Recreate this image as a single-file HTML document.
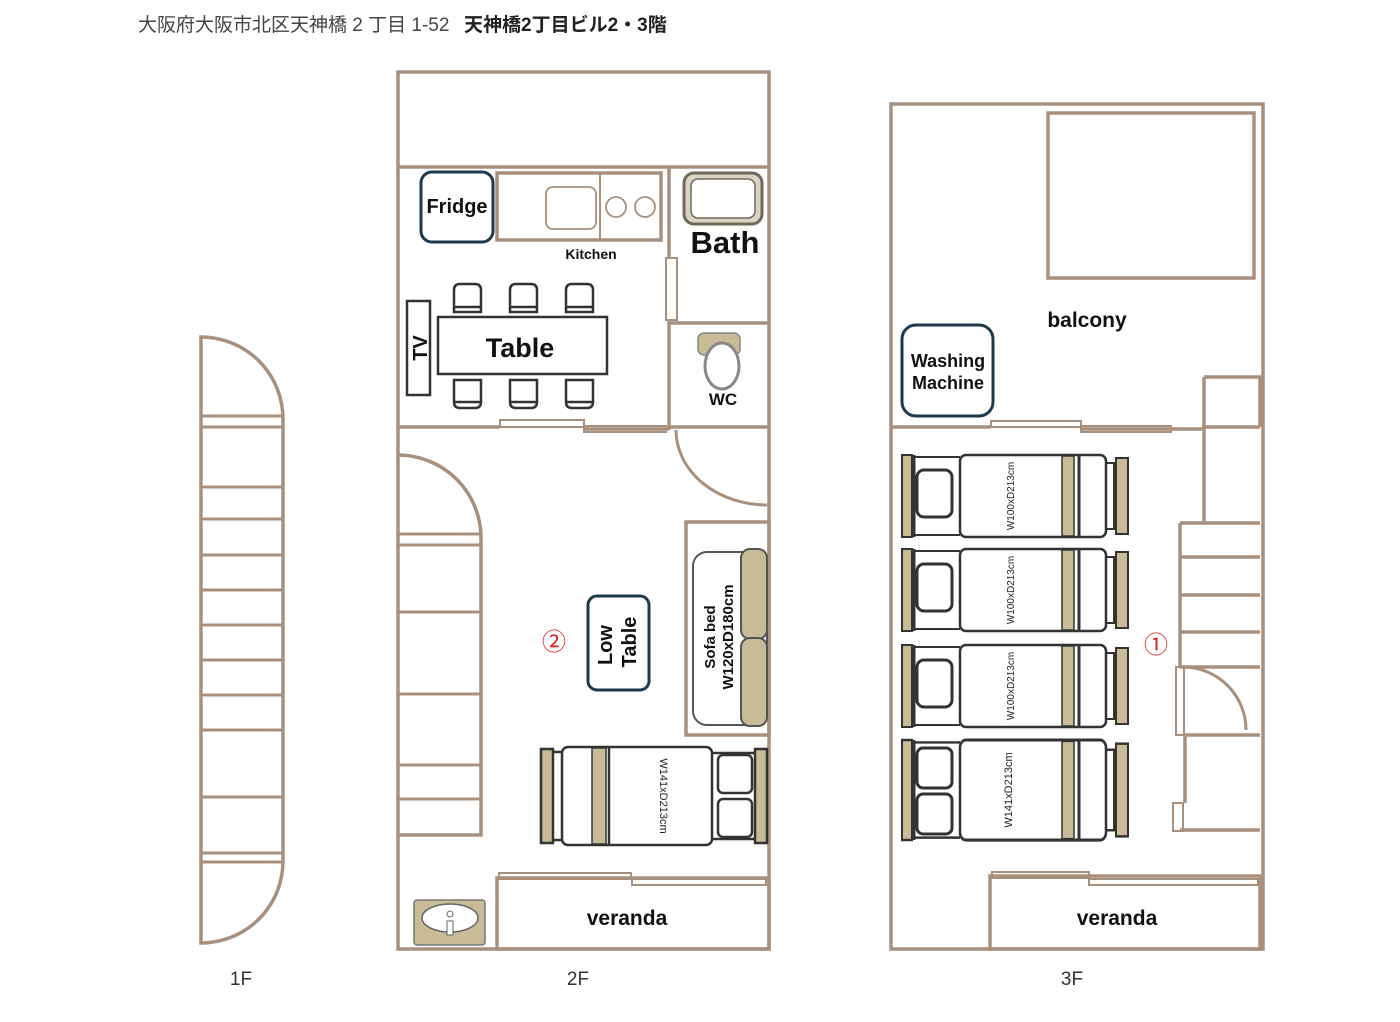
<!DOCTYPE html>
<html><head><meta charset="utf-8"><style>
html,body{margin:0;padding:0;background:#fff}
svg{display:block}
text{font-family:"Liberation Sans","Noto Sans CJK JP",sans-serif}
</style></head><body>
<svg width="1400" height="1022" viewBox="0 0 1400 1022" xmlns="http://www.w3.org/2000/svg">
<defs>
<g id="bed3">
  <rect x="0" y="0" width="10" height="82" fill="#c9bb95" stroke="#333" stroke-width="2"/>
  <path d="M12 2 H58 M12 80 H58" stroke="#333" stroke-width="2" fill="none"/>
  <line x1="12" y1="0" x2="12" y2="82" stroke="#333" stroke-width="3"/>
  <rect x="58" y="0" width="146" height="82" rx="6" fill="#fff" stroke="#333" stroke-width="2.5"/>
  <rect x="160" y="1" width="12" height="80" fill="#c9bb95" stroke="#333" stroke-width="1.5"/>
  <line x1="177" y1="1" x2="177" y2="81" stroke="#333" stroke-width="3"/>
  <path d="M204 8 H212 V74 H204" fill="none" stroke="#333" stroke-width="2"/>
  <rect x="214" y="3" width="12" height="76" fill="#c9bb95" stroke="#333" stroke-width="2"/>
</g>
</defs>
<g fill="none" stroke="#a8907f" stroke-width="3.5">
<path d="M201 337 A82 82 0 0 1 283 419 V860 A82 82 0 0 1 201 943 Z" fill="#fff"/>
<path stroke-width="3" d="M201 416 H283 M201 427 H283 M201 487 H283 M201 519 H283 M201 555 H283 M201 590 H283 M201 625 H283 M201 660 H283 M201 695 H283 M201 730 H283 M201 797 H283 M201 853 H283 M201 862 H283"/>
<rect x="398" y="72" width="371" height="877"/>
<path d="M398 167 H769 M669 167 V258 M669 320 V430 M669 323 H769 M398 427 H500 M584 429 H669 M669 427 H769"/>
<rect x="666" y="258" width="11" height="62" stroke-width="2"/>
<rect x="500" y="420" width="84" height="7" stroke-width="2"/>
<rect x="584" y="426" width="82" height="6" stroke-width="2"/>
<rect x="497" y="173" width="164" height="67"/>
<line x1="600" y1="173" x2="600" y2="240" stroke-width="2"/>
<rect x="546" y="187" width="50" height="42" rx="7" stroke-width="1.8"/>
<circle cx="616" cy="207" r="10" stroke-width="1.8"/>
<circle cx="645" cy="207" r="10" stroke-width="1.8"/>
<path d="M676 430 A91 75 0 0 0 767 505" stroke-width="3"/>
<path d="M398 455 A83 83 0 0 1 481 538 V835 H398"/>
<path stroke-width="3" d="M398 534 H481 M398 545 H481 M398 612 H481 M398 694 H481 M398 765 H481 M398 799 H481"/>
<rect x="686" y="522" width="83" height="213"/>
<rect x="497" y="878" width="272" height="71"/>
<rect x="499" y="873" width="132" height="6" stroke-width="2"/>
<rect x="632" y="879" width="134" height="6" stroke-width="2"/>
<rect x="891" y="104" width="372" height="845"/>
<rect x="1048" y="113" width="206" height="165"/>
<path d="M891 427 H991 M1080 429 H1202 M1202 427 H1260 M1204 377 H1260 V427 M1204 377 V523 M1180 523 H1260 M1180 523 V667 M1180 557 H1260 M1180 595 H1260 M1180 632 H1260 M1180 667 H1260 M1185 735 H1260 M1180 830 H1260 M1185 735 V803"/>
<rect x="991" y="421" width="90" height="6" stroke-width="2"/>
<rect x="1081" y="426" width="90" height="6" stroke-width="2"/>
<rect x="1176" y="667" width="8" height="68" stroke-width="2"/>
<rect x="1173" y="803" width="10" height="28" stroke-width="2"/>
<path d="M1184 667 A63 63 0 0 1 1246 730" stroke-width="3"/>
<rect x="990" y="876" width="270" height="73"/>
<rect x="992" y="872" width="97" height="6" stroke-width="2"/>
<rect x="1089" y="879" width="169" height="6" stroke-width="2"/>
</g>
<g fill="#fff" stroke="#1f3a4a" stroke-width="3">
<rect x="421" y="172" width="72" height="70" rx="11"/>
<rect x="588" y="596" width="61" height="94" rx="9"/>
<rect x="902" y="325" width="91" height="91" rx="14"/>
</g>
<g fill="#fff" stroke="#333" stroke-width="2.5">
<rect x="407" y="301" width="23" height="94"/>
<rect x="438" y="317" width="169" height="57"/>
<path d="M454 312 V290 Q454 284 460 284 H475 Q481 284 481 290 V312 Z M454 307 H481"/>
<path d="M510 312 V290 Q510 284 516 284 H531 Q537 284 537 290 V312 Z M510 307 H537"/>
<path d="M566 312 V290 Q566 284 572 284 H587 Q593 284 593 290 V312 Z M566 307 H593"/>
<path d="M454 380 V402 Q454 408 460 408 H475 Q481 408 481 402 V380 Z M454 402 H481"/>
<path d="M510 380 V402 Q510 408 516 408 H531 Q537 408 537 402 V380 Z M510 402 H537"/>
<path d="M566 380 V402 Q566 408 572 408 H587 Q593 408 593 402 V380 Z M566 402 H593"/>
</g>
<rect x="684" y="173" width="78" height="51" rx="10" fill="#d9d3c4" stroke="#6e6858" stroke-width="3"/>
<rect x="691" y="179" width="64" height="39" rx="7" fill="#fff" stroke="#6e6858" stroke-width="1.5"/>
<rect x="698" y="333" width="42" height="22" rx="6" fill="#c9bb95" stroke="#888" stroke-width="1.5"/>
<ellipse cx="722" cy="366" rx="17" ry="23" fill="#fff" stroke="#888" stroke-width="3"/>
<rect x="693" y="552" width="74" height="173" rx="14" fill="#fff" stroke="#555" stroke-width="2"/>
<rect x="741" y="549" width="26" height="90" rx="9" fill="#c9bb95" stroke="#555" stroke-width="2"/>
<rect x="741" y="638" width="26" height="88" rx="9" fill="#c9bb95" stroke="#555" stroke-width="2"/>
<g stroke="#333" stroke-width="2.5">
<rect x="541" y="749" width="12" height="94" fill="#c9bb95"/>
<path d="M553 752 H562 M553 840 H562" fill="none"/>
<rect x="562" y="747" width="150" height="98" rx="6" fill="#fff"/>
<rect x="592" y="748" width="14" height="96" fill="#c9bb95" stroke-width="1.5"/>
<line x1="609" y1="748" x2="609" y2="844"/>
<path d="M712 753 H755 M712 839 H755" fill="none"/>
<rect x="718" y="755" width="34" height="38" rx="5" fill="#fff"/>
<rect x="718" y="799" width="34" height="38" rx="5" fill="#fff"/>
<rect x="755" y="749" width="12" height="94" fill="#c9bb95"/>
</g>
<rect x="414" y="900" width="71" height="45" rx="3" fill="#c9bb95" stroke="#777" stroke-width="1.5"/>
<ellipse cx="450" cy="918" rx="28" ry="14" fill="#fff" stroke="#666" stroke-width="1.5"/>
<circle cx="450" cy="914" r="3" fill="#fff" stroke="#666"/>
<rect x="447" y="921" width="6" height="14" fill="#fff" stroke="#666"/>
<use href="#bed3" x="902" y="455"/>
<use href="#bed3" x="902" y="549"/>
<use href="#bed3" x="902" y="645"/>
<g transform="translate(902 740) scale(1 1.22)"><use href="#bed3"/></g>
<rect x="917" y="470" width="35" height="47" rx="7" fill="none" stroke="#333" stroke-width="3"/>
<rect x="917" y="564" width="35" height="47" rx="7" fill="none" stroke="#333" stroke-width="3"/>
<rect x="917" y="660" width="35" height="47" rx="7" fill="none" stroke="#333" stroke-width="3"/>
<rect x="917" y="748" width="35" height="40" rx="6" fill="none" stroke="#333" stroke-width="3"/>
<rect x="917" y="794" width="35" height="40" rx="6" fill="none" stroke="#333" stroke-width="3"/>
<text x="138" y="31" font-size="19" fill="#444">大阪府大阪市北区天神橋 2 丁目 1-52</text>
<text x="464" y="31" font-size="19" font-weight="bold" fill="#222">天神橋2丁目ビル2・3階</text>
<g font-weight="bold" fill="#111">
<text x="457" y="213" font-size="20" text-anchor="middle">Fridge</text>
<text x="591" y="259" font-size="14" text-anchor="middle">Kitchen</text>
<text x="725" y="253" font-size="31" text-anchor="middle">Bath</text>
<text x="520" y="357" font-size="27" text-anchor="middle">Table</text>
<text transform="translate(427 348) rotate(-90)" font-size="20" text-anchor="middle">TV</text>
<text x="723" y="405" font-size="17" text-anchor="middle">WC</text>
<text transform="translate(612 645) rotate(-90)" font-size="20" text-anchor="middle">Low</text>
<text transform="translate(636 642) rotate(-90)" font-size="20" text-anchor="middle">Table</text>
<text transform="translate(715 637) rotate(-90)" font-size="15" text-anchor="middle">Sofa bed</text>
<text transform="translate(733 637) rotate(-90)" font-size="15" text-anchor="middle">W120xD180cm</text>
<text x="627" y="925" font-size="21" text-anchor="middle">veranda</text>
<text x="1087" y="327" font-size="21" text-anchor="middle">balcony</text>
<text x="948" y="367" font-size="18" text-anchor="middle">Washing</text>
<text x="948" y="389" font-size="18" text-anchor="middle">Machine</text>
<text x="1117" y="925" font-size="21" text-anchor="middle">veranda</text>
</g>
<g fill="#222" font-size="10" text-anchor="middle">
<text transform="translate(660 796) rotate(90)" font-size="11">W141xD213cm</text>
<text transform="translate(1014 496) rotate(-90)">W100xD213cm</text>
<text transform="translate(1014 590) rotate(-90)">W100xD213cm</text>
<text transform="translate(1014 686) rotate(-90)">W100xD213cm</text>
<text transform="translate(1012 790) rotate(-90)" font-size="11">W141xD213cm</text>
</g>
<text x="554" y="650" font-size="24" fill="#e02020" text-anchor="middle">②</text>
<text x="1156" y="653" font-size="24" fill="#e02020" text-anchor="middle">①</text>
<g font-size="19" fill="#333" text-anchor="middle">
<text x="241" y="985">1F</text>
<text x="578" y="985">2F</text>
<text x="1072" y="985">3F</text>
</g>
</svg>
</body></html>
